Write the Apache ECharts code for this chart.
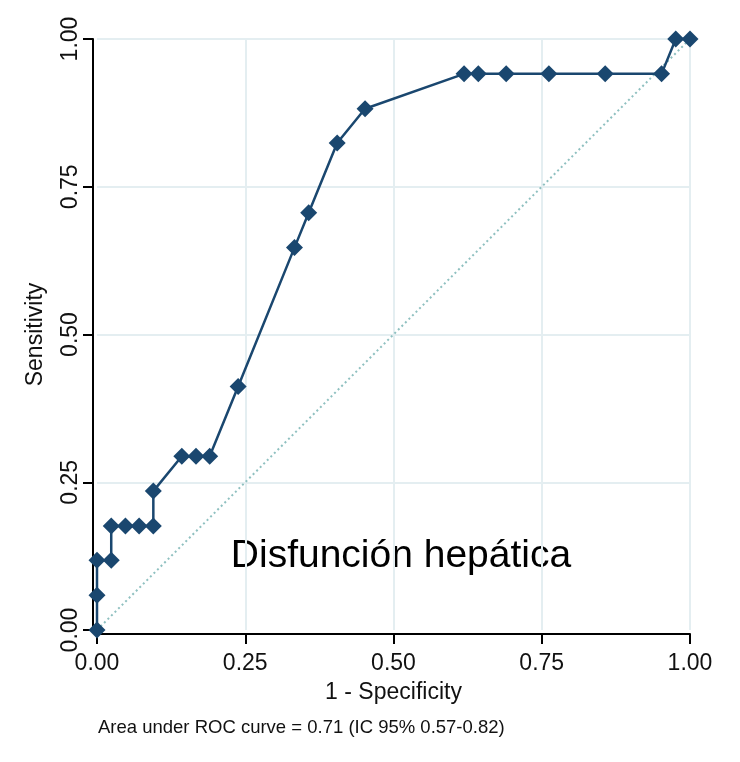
<!DOCTYPE html>
<html>
<head>
<meta charset="utf-8">
<script src="https://cdn.jsdelivr.net/npm/echarts@6/dist/echarts.min.js"></script>
<style>
html,body{margin:0;padding:0;background:#fff;}
#chart{width:740px;height:762px;}
</style>
</head>
<body>
<div id="chart"></div>
<script>
// 1 - Specificity (false positive rate)
const fpr = [0, 0, 0, 0.024, 0.024, 0.048, 0.071, 0.095, 0.095, 0.143, 0.167, 0.190, 0.238, 0.333, 0.357, 0.405, 0.452, 0.619, 0.643, 0.690, 0.762, 0.857, 0.952, 0.976, 1.0];
// Sensitivity (true positive rate)
const tpr = [0, 0.059, 0.118, 0.118, 0.176, 0.176, 0.176, 0.176, 0.235, 0.294, 0.294, 0.294, 0.412, 0.647, 0.706, 0.824, 0.882, 0.941, 0.941, 0.941, 0.941, 0.941, 0.941, 1.0, 1.0];
const refX = [0, 1];
const refY = [0, 1];
const annotation = 'Disfunción hepática';
const footnote = 'Area under ROC curve = 0.71 (IC 95% 0.57-0.82)';
const xTitle = '1 - Specificity';
const yTitle = 'Sensitivity';

const roc = fpr.map((x, i) => [x, tpr[i]]);
const ref = refX.map((x, i) => [x, refY[i]]);
const font = 'Liberation Sans, Arial, Helvetica, sans-serif';

const chart = echarts.init(document.getElementById('chart'), null, {renderer: 'canvas'});
chart.setOption({
  animation: false,
  backgroundColor: '#ffffff',
  grid: {left: 97, right: 50, top: 39, bottom: 132},
  xAxis: {
    type: 'value', min: 0, max: 1, interval: 0.25, offset: 4,
    name: xTitle, nameLocation: 'middle', nameGap: 47,
    nameTextStyle: {fontSize: 23, color: '#111', fontFamily: font},
    axisLine: {show: true, onZero: false, lineStyle: {color: '#000', width: 2}},
    axisTick: {show: true, length: 10, lineStyle: {color: '#000', width: 2}},
    axisLabel: {fontSize: 23, color: '#111', fontFamily: font, margin: 18,
      formatter: v => v.toFixed(2)},
    splitLine: {show: true, showMinLine: false, lineStyle: {color: '#e4eef1', width: 2}}
  },
  yAxis: {
    type: 'value', min: 0, max: 1, interval: 0.25, offset: 4,
    name: yTitle, nameLocation: 'middle', nameGap: 46,
    nameTextStyle: {fontSize: 23, color: '#111', fontFamily: font},
    axisLine: {show: true, onZero: false, lineStyle: {color: '#000', width: 2}},
    axisTick: {show: true, length: 10, lineStyle: {color: '#000', width: 2}},
    axisLabel: {fontSize: 23, color: '#111', fontFamily: font, margin: 11, rotate: 90,
      formatter: v => v.toFixed(2)},
    splitLine: {show: true, showMinLine: false, lineStyle: {color: '#e4eef1', width: 2}}
  },
  series: [
    {
      type: 'line', data: ref, symbol: 'none', silent: true, z: 1,
      lineStyle: {color: '#8fc0c0', width: 2, type: [2, 3]}
    },
    {
      type: 'line', data: roc, symbol: 'diamond', symbolSize: 17, z: 3,
      clip: false,
      itemStyle: {color: '#1a476f'},
      lineStyle: {color: '#1a476f', width: 2.5}
    }
  ],
  graphic: [
    {type: 'text', x: 401, y: 556, silent: true,
      style: {text: annotation, fontSize: 39, fontFamily: font, fill: '#000',
        textAlign: 'center', textVerticalAlign: 'middle'}},
    {type: 'text', x: 98, y: 728, silent: true,
      style: {text: footnote, fontSize: 18.5, fontFamily: font, fill: '#111',
        textAlign: 'left', textVerticalAlign: 'middle'}}
  ]
});
</script>
</body>
</html>
